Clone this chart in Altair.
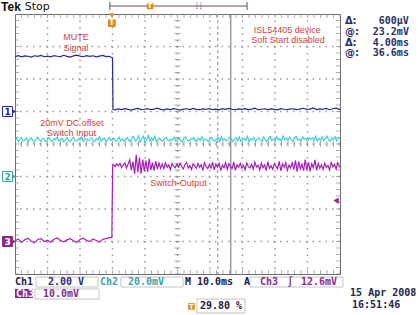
import altair as alt
import pandas as pd

# ---------------- scope settings ----------------
TIME_PER_DIV = 10.0            # ms/div
TRIG_POS = 0.298               # trigger position 29.80 %
N_HDIV, N_VDIV = 10, 8
CH1_VDIV, CH2_VDIV, CH3_VDIV = 2.0, 20.0, 10.0   # V/div, mV/div, mV/div
CH1_GND, CH2_GND, CH3_GND = 5, 3, 1              # ground markers (div from bottom)
TRIG_LEVEL_MV = 12.6
CURSOR_DASHED, CURSOR_SOLID = 32.6, 36.6         # ms

T_LEFT = -TRIG_POS * N_HDIV * TIME_PER_DIV
T_RIGHT = T_LEFT + N_HDIV * TIME_PER_DIV

# ---------------- waveform records ----------------
CH1_PRE_START, CH1_PRE_DT = -29.8, 1.0
CH1_PRE = [3.38, 3.44, 3.36, 3.42, 3.40, 3.35, 3.43, 3.39, 3.45, 3.37,
           3.41, 3.36, 3.44, 3.40, 3.38, 3.46, 3.39, 3.35, 3.42, 3.47,
           3.41, 3.37, 3.44, 3.39, 3.43, 3.36, 3.41, 3.45, 3.38, 3.40]
CH1_EDGE_T = [0.2, 0.35]
CH1_EDGE_V = [3.30, 0.12]
CH1_POST_START, CH1_POST_DT = 1.0, 1.0
CH1_POST = [0.10, 0.16, 0.12, 0.18, 0.13, 0.09, 0.15, 0.19, 0.12, 0.14,
            0.17, 0.11, 0.15, 0.20, 0.13, 0.10, 0.16, 0.12, 0.18, 0.14,
            0.09, 0.15, 0.17, 0.12, 0.19, 0.13, 0.11, 0.16, 0.14, 0.18,
            0.12, 0.15, 0.10, 0.17, 0.13, 0.19, 0.14, 0.11, 0.16, 0.13,
            0.18, 0.12, 0.15, 0.20, 0.11, 0.14, 0.17, 0.12, 0.16, 0.13,
            0.10, 0.18, 0.14, 0.12, 0.17, 0.15, 0.11, 0.16, 0.20, 0.13,
            0.15, 0.22, 0.12, 0.16, 0.14, 0.19, 0.11, 0.17, 0.21, 0.13, 0.16]

CH2_START, CH2_DT = -29.8, 0.5
CH2 = [22.1, 23.4, 21.6, 22.8, 24.0, 21.9, 22.5, 23.7, 21.2, 22.9,
       23.8, 22.0, 21.5, 23.1, 24.3, 22.4, 21.8, 23.5, 22.7, 21.4,
       22.9, 24.1, 22.2, 21.7, 23.3, 22.6, 24.4, 21.9, 22.8, 23.6,
       21.3, 22.5, 23.9, 22.1, 21.6, 23.2, 24.2, 22.3, 21.8, 23.0,
       22.6, 24.5, 21.5, 22.9, 23.4, 21.9, 22.7, 24.0, 22.2, 21.6,
       23.3, 22.4, 24.6, 21.8, 22.9, 23.7, 21.4, 22.6, 23.9, 22.1,
       22.8, 23.5, 21.7, 22.4, 24.2, 22.0, 23.1, 21.6, 22.9, 24.0,
       22.3, 21.5, 23.8, 24.6, 21.9, 22.7, 25.1, 21.2, 23.4, 24.8,
       21.0, 22.6, 25.3, 21.8, 23.9, 22.2, 24.7, 21.4, 22.9, 23.6,
       22.1, 21.7, 23.3, 24.1, 22.5, 21.9, 23.0, 22.4, 24.3, 21.6,
       22.8, 23.5, 22.0, 21.5, 23.7, 24.4, 22.3, 21.8, 23.2, 22.7,
       24.0, 21.7, 22.5, 23.6, 22.1, 24.5, 21.9, 23.0, 22.6, 21.4,
       23.4, 24.2, 22.2, 21.8, 22.9, 23.8, 21.6, 24.6, 22.4, 23.1,
       21.9, 22.7, 24.1, 23.3, 21.5, 22.8, 23.9, 22.0, 24.4, 21.7,
       22.6, 23.5, 22.1, 24.8, 21.8, 23.2, 22.5, 24.0, 21.6, 22.9,
       23.7, 22.3, 21.9, 24.3, 22.8, 21.4, 23.6, 24.7, 22.2, 23.0,
       21.8, 24.5, 22.6, 23.3, 21.7, 24.9, 22.4, 23.8, 22.0, 24.2,
       22.7, 21.5, 23.9, 24.6, 22.3, 23.1, 21.9, 24.4, 22.8, 23.5,
       21.6, 24.0, 22.9, 23.7, 22.2, 24.8, 21.8, 23.4, 22.5, 24.3,
       22.1, 23.6, 24.9, 22.4, 21.7, 23.8, 22.6, 24.5, 21.9, 23.2,
       24.1, 22.3, 23.0, 21.8, 24.6, 22.7, 23.5, 22.0, 24.2, 22.8, 23.4]

CH3_PRE_START, CH3_PRE_DT = -29.8, 1.0
CH3_PRE = [0.2, 0.8, -0.3, 0.5, 1.0, 0.1, -0.4, 0.6, 0.9, 0.0,
           0.4, -0.2, 0.7, 1.1, 0.3, -0.1, 0.5, 0.9, 0.2, -0.3,
           0.6, 1.0, 0.4, 0.0, 0.8, 0.3, -0.2, 0.7, 0.9, 1.2]
CH3_EDGE_T = [0.0, 0.25]
CH3_EDGE_V = [1.2, 23.4]
CH3_POST_START, CH3_POST_DT = 0.5, 0.5
CH3_POST = [23.6, 23.1, 23.9, 23.3, 24.0, 22.8, 23.5, 24.2, 22.6, 23.8,
            25.1, 21.9, 24.6, 20.8, 26.7, 21.3, 25.8, 20.9, 25.2, 21.6,
            24.9, 21.4, 25.5, 22.0, 24.3, 21.8, 24.7, 22.3, 24.1, 22.5,
            23.9, 22.4, 24.2, 22.8, 23.6, 22.1, 24.0, 23.2, 22.7, 23.8,
            22.9, 24.1, 23.0, 22.3, 23.7, 24.3, 22.6, 23.4, 22.2, 23.9,
            23.3, 22.5, 24.0, 22.8, 23.6, 21.9, 24.2, 23.0, 22.4, 23.7,
            22.6, 24.4, 22.0, 23.8, 22.9, 24.1, 21.8, 23.5, 22.7, 24.3,
            22.2, 23.9, 23.1, 22.4, 24.5, 21.9, 23.6, 22.8, 24.0, 22.5,
            23.4, 22.1, 24.2, 23.0, 22.6, 23.8, 22.3, 24.4, 22.9, 23.5,
            22.0, 24.1, 22.7, 23.6, 21.8, 24.6, 22.5, 23.3, 22.2, 24.0,
            23.1, 22.4, 24.7, 21.7, 23.9, 22.8, 24.3, 21.9, 23.5, 22.6,
            24.2, 22.1, 25.0, 21.5, 24.6, 22.3, 23.8, 21.8, 25.2, 22.0,
            24.4, 21.6, 23.9, 22.7, 25.1, 21.9, 24.0, 22.5, 23.6, 22.2,
            24.1, 22.8, 23.4, 22.0, 24.5, 22.9, 23.7, 22.3, 24.2, 23.0, 23.5]

# ---------------- colours ----------------
C1, C2, C3 = "#262a8c", "#3fcfd6", "#a81fb8"
C3_DARK = "#8a2a8a"
RED = "#d8403c"
ORANGE = "#e58a1f"
GRID = "#9a9a9a"
TICK = "#8c8c8c"
NAVY_TXT = "#2a2f6a"
TEAL_TXT = "#3a9fb0"
BOX = "#c4c4c4"


def record(start, dt, vals):
    return [(round(start + i * dt, 3), v) for i, v in enumerate(vals)]


def sc(lo, hi):
    return alt.Scale(domain=[lo, hi], nice=False, zero=False)


def XD(f):
    return alt.X(f, scale=sc(0, N_HDIV), axis=None)


def YD(f):
    return alt.Y(f, scale=sc(0, N_VDIV), axis=None)


def XT(f):
    return alt.X(f, scale=sc(T_LEFT, T_RIGHT), axis=None)


def YCH(f, gnd, per):
    return alt.Y(f, scale=sc(-gnd * per, (N_VDIV - gnd) * per), axis=None)


layers = []

# ---------------- graticule ----------------
layers.append(alt.Chart(pd.DataFrame({"d": list(range(1, N_HDIV))}))
              .mark_rule(color=GRID, strokeWidth=1.5, strokeDash=[1.5, 5.0])
              .encode(x=XD("d:Q")))
layers.append(alt.Chart(pd.DataFrame({"d": list(range(1, N_VDIV))}))
              .mark_rule(color=GRID, strokeWidth=1.5, strokeDash=[1.5, 5.0])
              .encode(y=YD("d:Q")))

HPOS = [i / 5 for i in range(N_HDIV * 5 + 1)]
VPOS = [i / 5 for i in range(N_VDIV * 5 + 1)]
htick = pd.DataFrame([(p, r, s) for r, s in [(0, 8), (N_VDIV / 2, 6), (N_VDIV, 8)] for p in HPOS],
                     columns=["p", "r", "s"])
vtick = pd.DataFrame([(p, r, s) for r, s in [(0, 8), (N_HDIV / 2, 6), (N_HDIV, 8)] for p in VPOS],
                     columns=["p", "r", "s"])
layers.append(alt.Chart(htick).mark_tick(orient="vertical", thickness=1, color=TICK, clip=True)
              .encode(x=XD("p:Q"), y=YD("r:Q"), size=alt.Size("s:Q", scale=None)))
layers.append(alt.Chart(vtick).mark_tick(orient="horizontal", thickness=1, color=TICK, clip=True)
              .encode(y=YD("p:Q"), x=XD("r:Q"), size=alt.Size("s:Q", scale=None)))

# ---------------- cursors ----------------
layers.append(alt.Chart(pd.DataFrame({"t": [CURSOR_DASHED]}))
              .mark_rule(color="#8a8a8a", strokeWidth=1, strokeDash=[3, 3]).encode(x=XT("t:Q")))
layers.append(alt.Chart(pd.DataFrame({"t": [CURSOR_SOLID]}))
              .mark_rule(color="#6e6e6e", strokeWidth=1).encode(x=XT("t:Q")))

# ---------------- waveforms ----------------
ch1 = pd.DataFrame(record(CH1_PRE_START, CH1_PRE_DT, CH1_PRE) + list(zip(CH1_EDGE_T, CH1_EDGE_V))
                   + record(CH1_POST_START, CH1_POST_DT, CH1_POST), columns=["t", "v"])
ch2 = pd.DataFrame(record(CH2_START, CH2_DT, CH2), columns=["t", "v"])
ch3 = pd.DataFrame(record(CH3_PRE_START, CH3_PRE_DT, CH3_PRE) + list(zip(CH3_EDGE_T, CH3_EDGE_V))
                   + record(CH3_POST_START, CH3_POST_DT, CH3_POST), columns=["t", "v"])

layers.append(alt.Chart(ch1).mark_line(color=C1, strokeWidth=1.2, clip=True)
              .encode(x=XT("t:Q"), y=YCH("v:Q", CH1_GND, CH1_VDIV)))
layers.append(alt.Chart(ch2).mark_line(color=C2, strokeWidth=1.2, clip=True)
              .encode(x=XT("t:Q"), y=YCH("v:Q", CH2_GND, CH2_VDIV)))
layers.append(alt.Chart(ch3).mark_line(color=C3, strokeWidth=1.2, clip=True)
              .encode(x=XT("t:Q"), y=YCH("v:Q", CH3_GND, CH3_VDIV)))

# ---------------- trigger markers ----------------
trig = pd.DataFrame({"t": [0.0], "y": [7.72], "ya": [7.95]})
layers.append(alt.Chart(trig).mark_point(shape="triangle-down", filled=True, size=28, color=ORANGE, opacity=1)
              .encode(x=XT("t:Q"), y=YD("ya:Q")))
layers.append(alt.Chart(trig).mark_square(size=60, color=ORANGE, opacity=1)
              .encode(x=XT("t:Q"), y=YD("y:Q")))
layers.append(alt.Chart(trig).mark_text(text="T", color="white", fontSize=8, fontWeight="bold",
                                        font="DejaVu Sans", baseline="middle")
              .encode(x=XT("t:Q"), y=YD("y:Q")))
lvl = pd.DataFrame({"x": [9.88], "v": [TRIG_LEVEL_MV]})
layers.append(alt.Chart(lvl).mark_point(shape="triangle-left", filled=True, size=40, color=C3_DARK, opacity=1)
              .encode(x=XD("x:Q"), y=YCH("v:Q", CH3_GND, CH3_VDIV)))

# ---------------- record bar at top ----------------
bar = pd.DataFrame({"x": [2.92], "x2": [7.14], "y": [8.246]})
layers.append(alt.Chart(bar).mark_rule(color="#6a4a66", strokeWidth=1)
              .encode(x=XD("x:Q"), x2="x2:Q", y=YD("y:Q")))
brk = pd.DataFrame({"x": [2.92, 7.14], "y": [8.12, 8.12], "y2": [8.37, 8.37]})
layers.append(alt.Chart(brk).mark_rule(color="#6a4a66", strokeWidth=1)
              .encode(x=XD("x:Q"), y=YD("y:Q"), y2="y2:Q"))
win = pd.DataFrame({"x": [5.6, 5.72], "y": [8.14, 8.14], "y2": [8.36, 8.36]})
layers.append(alt.Chart(win).mark_rule(color="#8a6a86", strokeWidth=1, strokeDash=[2, 1])
              .encode(x=XD("x:Q"), y=YD("y:Q"), y2="y2:Q"))
bt = pd.DataFrame({"x": [4.154], "y": [8.246]})
layers.append(alt.Chart(bt).mark_square(size=42, color=ORANGE, opacity=1).encode(x=XD("x:Q"), y=YD("y:Q")))
layers.append(alt.Chart(bt).mark_text(text="T", color="white", fontSize=7, fontWeight="bold",
                                      font="DejaVu Sans", baseline="middle")
              .encode(x=XD("x:Q"), y=YD("y:Q")))

# ---------------- channel ground markers ----------------
gnd = pd.DataFrame({"x": [-0.23, -0.23, -0.23], "y": [CH1_GND, CH2_GND, CH3_GND],
                    "fill": ["white", "white", C3_DARK], "stroke": [C1, TEAL_TXT, C3_DARK],
                    "label": ["1", "2", "3"], "tc": [C1, TEAL_TXT, "white"], "xa": [-0.03, -0.03, -0.03]})
layers.append(alt.Chart(gnd).mark_point(shape="triangle-right", filled=True, size=22, opacity=1)
              .encode(x=XD("xa:Q"), y=YD("y:Q"), color=alt.Color("stroke:N", scale=None)))
layers.append(alt.Chart(gnd).mark_square(size=100, strokeWidth=1, opacity=1)
              .encode(x=XD("x:Q"), y=YD("y:Q"), fill=alt.Fill("fill:N", scale=None),
                      stroke=alt.Stroke("stroke:N", scale=None)))
layers.append(alt.Chart(gnd).mark_text(fontSize=9, fontWeight="bold", font="DejaVu Sans", baseline="middle")
              .encode(x=XD("x:Q"), y=YD("y:Q"), text="label:N", color=alt.Color("tc:N", scale=None)))

# ---------------- boxes in the status area ----------------
boxes = pd.DataFrame({
    "x": [0.646, 3.26, 7.23, 0.615, 5.6],
    "x2": [2.554, 5.17, 10.09, 2.585, 7.08],
    "y": [-0.092, -0.092, -0.092, -0.46, -0.77],
    "y2": [-0.40, -0.40, -0.40, -0.77, -1.20],
})
layers.append(alt.Chart(boxes).mark_rect(fill="white", stroke=BOX, strokeWidth=1)
              .encode(x=XD("x:Q"), x2="x2:Q", y=YD("y:Q"), y2="y2:Q"))
ch3box = pd.DataFrame({"x": [0.0], "x2": [0.554], "y": [-0.46], "y2": [-0.738]})
layers.append(alt.Chart(ch3box).mark_rect(fill=C3_DARK)
              .encode(x=XD("x:Q"), x2="x2:Q", y=YD("y:Q"), y2="y2:Q"))
ti = pd.DataFrame({"x": [5.43], "y": [-1.0]})
layers.append(alt.Chart(ti).mark_square(size=45, color=ORANGE, opacity=1).encode(x=XD("x:Q"), y=YD("y:Q")))
layers.append(alt.Chart(ti).mark_text(text="T", color="white", fontSize=7, fontWeight="bold",
                                      font="DejaVu Sans", baseline="middle")
              .encode(x=XD("x:Q"), y=YD("y:Q")))


# ---------------- texts ----------------
def texts(rows, **mark):
    df = pd.DataFrame(rows, columns=["x", "y", "text", "color"])
    return (alt.Chart(df).mark_text(baseline="middle", **mark)
            .encode(x=XD("x:Q"), y=YD("y:Q"), text="text:N", color=alt.Color("color:N", scale=None)))


ANNOT = [(1.88, 7.29, "MUTE", RED), (1.88, 6.95, "Signal", RED),
         (1.75, 4.65, "20mV DC offset", RED), (1.74, 4.34, "Switch Input", RED),
         (5.03, 2.80, "Switch-Output", RED),
         (8.38, 7.51, "ISL54405 device", RED), (8.40, 7.20, "Soft Start disabled", RED)]
layers.append(texts(ANNOT, align="center", font="Liberation Sans", fontSize=9))

layers.append(texts([(-0.43, 8.215, "Tek", "#111111")], align="left", font="Liberation Sans",
                    fontSize=12, fontWeight="bold"))
layers.append(texts([(0.30, 8.215, "Stop", "#111111")], align="left", font="DejaVu Sans", fontSize=11))

SIDE_LBL = [(10.15, 7.785, "Δ:", NAVY_TXT), (10.15, 7.446, "@:", NAVY_TXT),
            (10.15, 7.108, "Δ:", NAVY_TXT), (10.15, 6.80, "@:", NAVY_TXT)]
SIDE_VAL = [(12.12, 7.785, "600µV", NAVY_TXT), (12.12, 7.446, "23.2mV", NAVY_TXT),
            (12.12, 7.108, "4.00ms", NAVY_TXT), (12.12, 6.80, "36.6ms", NAVY_TXT)]
layers.append(texts(SIDE_LBL, align="left", font="DejaVu Sans", fontSize=10, fontWeight="bold"))
layers.append(texts(SIDE_VAL, align="right", font="DejaVu Sans Mono", fontSize=10, fontWeight="bold"))

STATUS = [(0.0, -0.246, "Ch1", "#1e2050"), (1.015, -0.246, "2.00 V", C1),
          (2.615, -0.246, "Ch2", TEAL_TXT), (3.477, -0.246, "20.0mV", TEAL_TXT),
          (5.23, -0.246, "M 10.0ms", "#1e2040"), (7.046, -0.246, "A", "#1e2040"),
          (7.54, -0.246, "Ch3", C3_DARK), (8.37, -0.246, "∫", C3_DARK),
          (8.80, -0.246, "12.6mV", C3_DARK),
          (0.03, -0.60, "Ch3", "white"), (0.86, -0.60, "10.0mV", C3_DARK),
          (10.31, -0.585, "15 Apr 2008", "#22244a"), (10.37, -0.954, "16:51:46", "#22244a"),
          (5.69, -0.99, "29.80 %", "#1e2040")]
layers.append(texts(STATUS, align="left", font="DejaVu Sans Mono", fontSize=10, fontWeight="bold"))

chart = (alt.layer(*layers)
         .resolve_scale(x="independent", y="independent")
         .properties(width=325, height=260, autosize="none",
                     padding={"left": 15, "top": 14, "right": 78, "bottom": 41},
                     background="white")
         .configure_view(stroke="#6e6e6e", strokeWidth=1))

chart.save("out.html", embed_options={"renderer": "svg", "actions": False})
